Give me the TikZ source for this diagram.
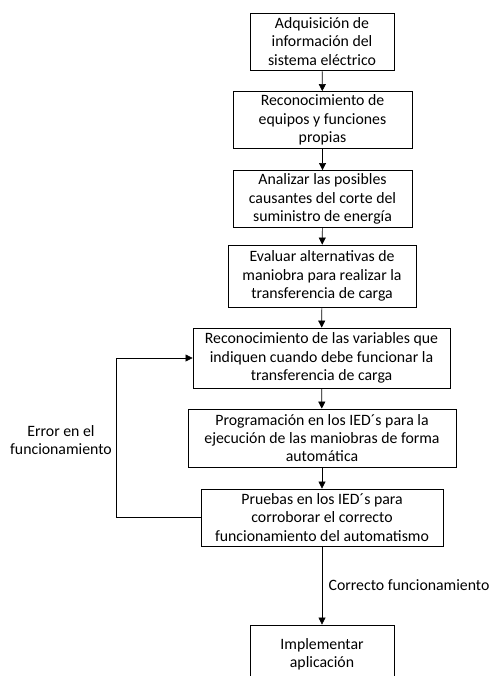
\documentclass[tikz,border=0pt]{standalone}
\usepackage{fontspec}
\setmainfont{Carlito}
\usetikzlibrary{arrows.meta}

\begin{document}
\begin{tikzpicture}[x=1pt,y=-1pt,
  font=\fontsize{15.8}{18.3}\selectfont,
  paso/.style={draw,thick,align=center,inner sep=1pt,minimum height=57pt},
  flecha/.style={-{Triangle[width=7pt,length=7pt]},semithick}]
 \useasboundingbox (0,0) rectangle (493,676);
 \node[paso,minimum width=144pt](b1) at (322,41.5){Adquisición de\\información del\\sistema eléctrico};
 \node[paso,minimum width=179pt](b2) at (322.5,120){Reconocimiento de\\equipos y funciones\\propias};
 \node[paso,minimum width=179pt](b3) at (322.5,199){Analizar las posibles\\causantes del corte del\\suministro de energía};
 \node[paso,minimum width=188pt,minimum height=62pt](b4) at (322,276){Evaluar alternativas de\\maniobra para realizar la\\transferencia de carga};
 \node[paso,minimum width=257pt,minimum height=60pt](b5) at (321.5,358){Reconocimiento de las variables que\\indiquen cuando debe funcionar la\\transferencia de carga};
 \node[paso,minimum width=268pt,minimum height=58pt](b6) at (322,438){Programación en los IED´s para la\\ejecución de las maniobras de forma\\automática};
 \node[paso,minimum width=242pt](b7) at (322,517.5){Pruebas en los IED´s para\\corroborar el correcto\\funcionamiento del automatismo};
 \node[paso,minimum width=144pt,minimum height=58pt](b8) at (322,654){Implementar\\aplicación};
 \node[align=center](err) at (61,440){Error en el\\funcionamiento};
 \draw[flecha](b1)--(b2);
 \draw[flecha](b2)--(b3);
 \draw[flecha](b3)--(b4);
 \draw[flecha](b4)--(b5);
 \draw[flecha](b5)--(b6);
 \draw[flecha](b6)--(b7);
 \draw[flecha](b7)--(b8) node[midway,right=3pt]{Correcto funcionamiento};
 \draw[flecha](b7.west)-- ++(-84,0) |- (b5.west);
\end{tikzpicture}
\end{document}
